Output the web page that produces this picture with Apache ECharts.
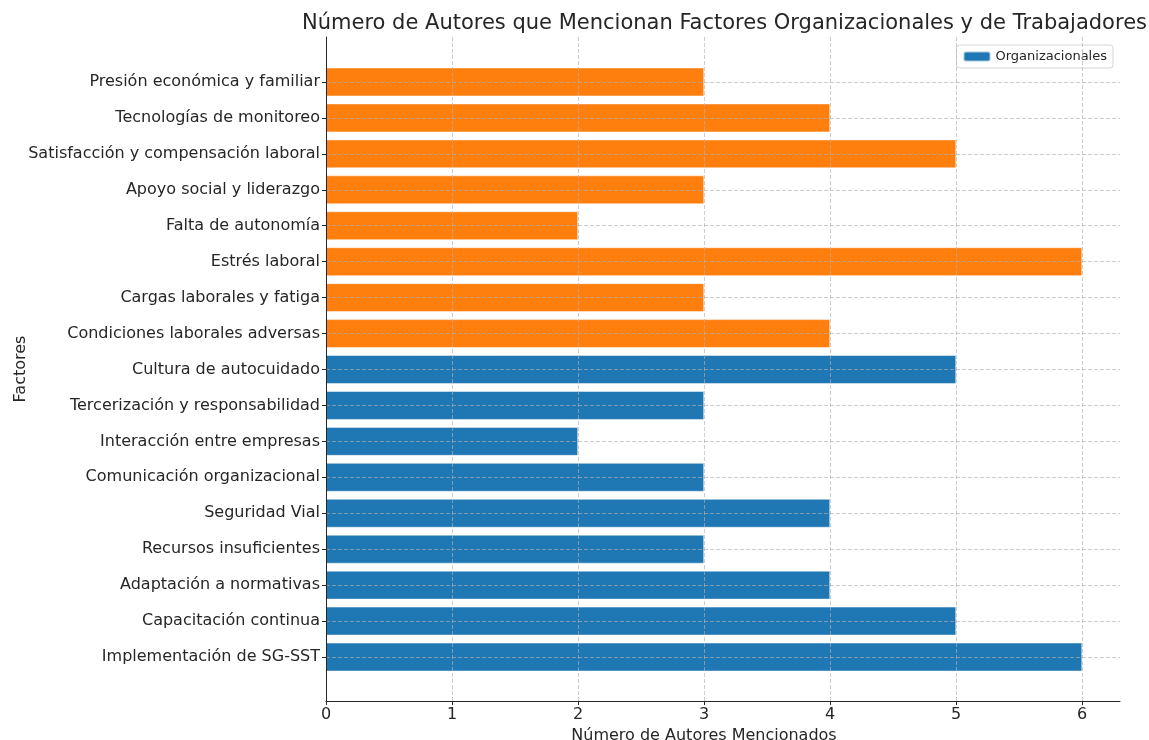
<!DOCTYPE html>
<html>
<head>
<meta charset="utf-8">
<script src="https://cdn.jsdelivr.net/npm/echarts@6/dist/echarts.min.js"></script>
<style>
  html, body { margin: 0; padding: 0; background: #fff; }
  #main { width: 1149px; height: 740px; }
</style>
</head>
<body>
<div id="main"></div>
<script type="text/javascript">
    // categorías de abajo hacia arriba
    var categorias = [
        'Implementación de SG-SST', 'Capacitación continua', 'Adaptación a normativas',
        'Recursos insuficientes', 'Seguridad Vial', 'Comunicación organizacional',
        'Interacción entre empresas', 'Tercerización y responsabilidad', 'Cultura de autocuidado',
        'Condiciones laborales adversas', 'Cargas laborales y fatiga', 'Estrés laboral',
        'Falta de autonomía', 'Apoyo social y liderazgo', 'Satisfacción y compensación laboral',
        'Tecnologías de monitoreo', 'Presión económica y familiar'
    ];
    var organizacionales = [6, 5, 4, 3, 4, 3, 2, 3, 5, '-', '-', '-', '-', '-', '-', '-', '-'];
    var trabajadores = ['-', '-', '-', '-', '-', '-', '-', '-', '-', 4, 3, 6, 2, 3, 5, 4, 3];
    var maxX = 6;       // último tick del eje x
    var limiteX = 6.3;  // borde derecho del área

    var fuente = 'DejaVu Sans';
    var gris = 'rgba(176,176,176,0.65)';
    var oscuro = '#262626';

    var myChart = echarts.init(document.getElementById('main'));
    var option = {
        backgroundColor: '#fff',
        textStyle: { fontFamily: fuente },
        title: {
            text: 'Número de Autores que Mencionan Factores Organizacionales y de Trabajadores',
            left: 297, top: 8,
            textStyle: { fontFamily: fuente, fontSize: 21, fontWeight: 'normal', color: oscuro }
        },
        legend: {
            data: ['Organizacionales'],
            right: 36, top: 45,
            itemWidth: 27, itemHeight: 10, itemGap: 8,
            padding: [5, 6, 5, 6],
            borderColor: '#d6d6d6', borderWidth: 1, borderRadius: 3,
            textStyle: { fontFamily: fuente, fontSize: 13, color: oscuro }
        },
        grid: [
            // barras
            { left: 326, right: 29, top: 64, bottom: 65, outerBoundsMode: 'none' },
            // ticks y rejilla vertical (0..6)
            { left: 326, right: 67, top: 37, bottom: 39, outerBoundsMode: 'none' },
            // marco: ejes izquierdo e inferior
            { left: 326, right: 29, top: 37, bottom: 39, outerBoundsMode: 'none' }
        ],
        xAxis: [
            { gridIndex: 0, type: 'value', min: 0, max: limiteX, show: false },
            {
                gridIndex: 1, type: 'value', min: 0, max: maxX, interval: 1, z: 10,
                name: 'Número de Autores Mencionados', nameLocation: 'middle', nameGap: 24,
                nameTextStyle: { fontFamily: fuente, fontSize: 16, color: oscuro },
                axisLine: { show: false },
                axisTick: { show: true, length: 4, lineStyle: { color: oscuro } },
                axisLabel: { fontFamily: fuente, fontSize: 16, color: oscuro, margin: 6 },
                splitLine: { show: true, lineStyle: { color: gris, type: [4, 2], width: 1 } }
            },
            {
                gridIndex: 2, type: 'value', min: 0, max: 1, z: 10,
                axisLine: { show: true, lineStyle: { color: oscuro, width: 1 } },
                axisTick: { show: false }, axisLabel: { show: false }, splitLine: { show: false }
            }
        ],
        yAxis: [
            {
                gridIndex: 0, type: 'category', data: categorias, z: 10,
                axisLine: { show: false },
                axisTick: { show: true, alignWithLabel: true, length: 4, lineStyle: { color: oscuro } },
                axisLabel: { fontFamily: fuente, fontSize: 16, color: oscuro, margin: 6 },
                splitLine: { show: true, alignWithLabel: true, lineStyle: { color: gris, type: [4, 2], width: 1 } }
            },
            {
                gridIndex: 1, type: 'value', min: 0, max: 1, show: false
            },
            {
                gridIndex: 2, type: 'value', min: 0, max: 1, z: 10,
                name: 'Factores', nameLocation: 'middle', nameGap: 297, nameRotate: 90,
                nameTextStyle: { fontFamily: fuente, fontSize: 16, color: oscuro },
                axisLine: { show: true, lineStyle: { color: oscuro, width: 1 } },
                axisTick: { show: false }, axisLabel: { show: false }, splitLine: { show: false }
            }
        ],
        series: [
            {
                name: 'Organizacionales', type: 'bar', xAxisIndex: 0, yAxisIndex: 0, z: 1,
                data: organizacionales, barWidth: '80%', barGap: '-100%',
                itemStyle: { color: '#1f77b4', borderColor: 'rgba(255,255,255,0.6)', borderWidth: 0.8 }
            },
            {
                name: 'Trabajadores', type: 'bar', xAxisIndex: 0, yAxisIndex: 0, z: 1,
                data: trabajadores, barWidth: '80%', barGap: '-100%',
                itemStyle: { color: '#ff7f0e', borderColor: 'rgba(255,255,255,0.6)', borderWidth: 0.8 }
            }
        ],
        animation: false
    };
    myChart.setOption(option);
</script>
</body>
</html>
